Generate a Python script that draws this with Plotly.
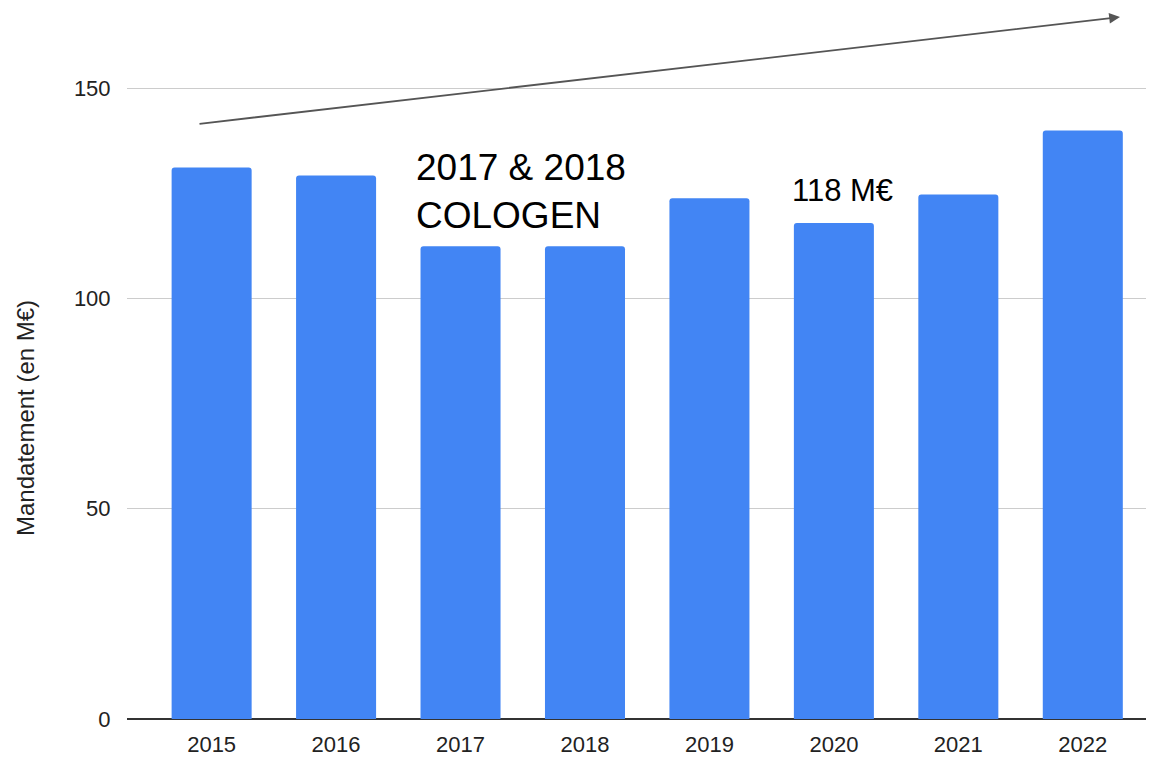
import plotly.graph_objects as go

years = ["2015", "2016", "2017", "2018", "2019", "2020", "2021", "2022"]
mandatement = [131.1, 129.2, 112.4, 112.4, 123.8, 117.9, 124.7, 139.9]
y_ticks = [0, 50, 100, 150]

FONT = "Liberation Sans, Arial, sans-serif"
OFF = 8  # default page body margin
W, H = 1154 - OFF, 757 - OFF
L, R, T, B = 127 - OFF, 4, 20 - OFF, 38
PW, PH = W - L - R, H - T - B
PX_PER_UNIT = 4.2067

def px_x(x):
    return (x - 127) / PW

def px_y(y):
    return (719 - y) / PH

fig = go.Figure(
    go.Bar(
        x=years,
        y=mandatement,
        marker=dict(color="#4285F4", cornerradius=3, line=dict(width=0)),
        width=0.643,
        hoverinfo="x+y",
    )
)

fig.update_layout(
    width=W,
    height=H,
    margin=dict(l=L, r=R, t=T, b=B, autoexpand=False),
    plot_bgcolor="white",
    paper_bgcolor="white",
    font=dict(family=FONT, size=22, color="#222222"),
    showlegend=False,
    xaxis=dict(
        type="category",
        range=[-0.68, 7.54],
        showgrid=False,
        ticks="outside",
        ticklen=6,
        tickcolor="rgba(0,0,0,0)",
        tickfont=dict(size=22, color="#222222"),
        showline=False,
        zeroline=False,
    ),
    yaxis=dict(
        range=[0, PH / PX_PER_UNIT],
        tickvals=y_ticks,
        showgrid=True,
        gridcolor="#cccccc",
        gridwidth=1,
        zeroline=True,
        zerolinecolor="#333333",
        zerolinewidth=1.5,
        ticks="outside",
        ticklen=11,
        tickcolor="rgba(0,0,0,0)",
        tickfont=dict(size=22, color="#222222"),
        automargin=False,
    ),
)

# y-axis title (positioned as in the reference, slightly below centre)
fig.add_annotation(
    xref="paper", yref="paper",
    x=px_x(25), y=px_y(418),
    xanchor="center", yanchor="middle",
    text="Mandatement (en M€)", textangle=-90,
    showarrow=False,
    font=dict(size=24, color="#222222", family=FONT),
)

fig.add_annotation(
    xref="paper", yref="paper",
    x=px_x(414), y=px_y(145),
    xanchor="left", yanchor="top",
    text="2017 & 2018<br>COLOGEN",
    showarrow=False, align="left",
    font=dict(size=37, color="#000000", family=FONT),
)
fig.add_annotation(
    xref="paper", yref="paper",
    x=px_x(790), y=px_y(171),
    xanchor="left", yanchor="top",
    text="118 M€",
    showarrow=False, align="left",
    font=dict(size=31, color="#000000", family=FONT),
)
fig.add_annotation(
    xref="paper", yref="paper",
    x=px_x(1120), y=px_y(17),
    ax=198 - 1120, ay=124 - 17,
    text="", showarrow=True,
    arrowhead=2, arrowsize=1.2, arrowwidth=1.8, arrowcolor="#555555",
)

fig.write_html("out.html")
